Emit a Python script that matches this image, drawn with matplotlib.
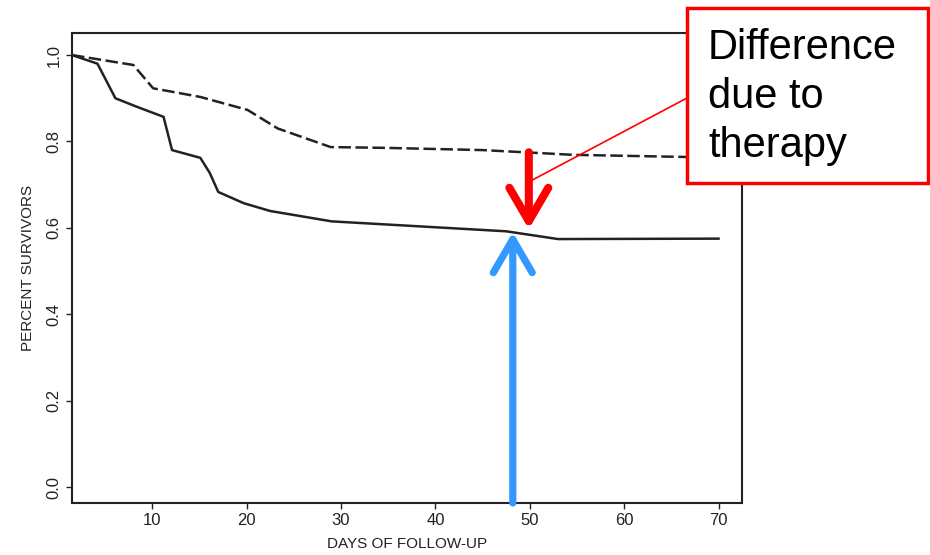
import matplotlib.pyplot as plt
from matplotlib.patches import Rectangle

plt.rcParams['font.family'] = ['Liberation Sans', 'DejaVu Sans']

# кривые выживаемости
days_control = [1.5, 4.2, 6.1, 8.4, 11.2, 12.1, 15.1, 16.1, 17.0, 19.7, 22.5, 29.0, 47.5, 53.0, 70.0]
surv_control = [1.0, 0.98, 0.90, 0.88, 0.857, 0.78, 0.762, 0.727, 0.683, 0.657, 0.639, 0.615, 0.592, 0.574, 0.575]

days_treated = [1.5, 8.0, 10.1, 15.1, 20.1, 23.3, 28.9, 35.0, 45.0, 54.6, 66.7, 72.0]
surv_treated = [1.0, 0.977, 0.923, 0.903, 0.873, 0.83, 0.787, 0.785, 0.78, 0.769, 0.764, 0.765]

x_ticks = [10, 20, 30, 40, 50, 60, 70]
y_ticks = [0.0, 0.2, 0.4, 0.6, 0.8, 1.0]

note_text = "Difference\ndue to\ntherapy"
blue_at = (48.2, 0.59)
red_from = (49.9, 0.775)
red_to = (49.9, 0.597)

fig = plt.figure(figsize=(9.3, 5.55), dpi=100)
ax = fig.add_axes([0.0774, 0.0937, 0.7206, 0.8468])

ink = '#222222'
ax.plot(days_control, surv_control, color=ink, lw=1.8)
ax.plot(days_treated, surv_treated, color=ink, lw=1.8, linestyle=(0, (5, 1.8)))

ax.set_xlim(1.5, 72.5)
ax.set_ylim(-0.037, 1.051)
ax.set_xticks(x_ticks)
ax.set_yticks(y_ticks)
ax.set_yticklabels([f"{v:.1f}" for v in y_ticks], rotation=90, va='center')
ax.tick_params(colors=ink, labelsize=12, length=4, width=1)
for s in ax.spines.values():
    s.set_color(ink)
    s.set_linewidth(1.5)

ax.set_xlabel("DAYS OF FOLLOW-UP", fontsize=11, color=ink, labelpad=6)
ax.set_ylabel("PERCENT SURVIVORS", fontsize=11, color=ink, labelpad=8)

# синяя стрелка снизу вверх
ax.annotate("", xy=blue_at, xytext=(blue_at[0], -0.037),
            arrowprops=dict(arrowstyle="->,head_length=1.2,head_width=0.7",
                            color='#3399FF', lw=5.2, mutation_scale=20,
                            shrinkA=0, shrinkB=0), annotation_clip=False)
# красная стрелка сверху вниз
ax.annotate("", xy=red_to, xytext=red_from,
            arrowprops=dict(arrowstyle="->,head_length=1.2,head_width=0.7",
                            color='#FF0000', lw=5.8, mutation_scale=20,
                            shrinkA=0, shrinkB=0))

# линия от рамки к стрелке
ax.annotate("", xy=(50.3, 0.711), xycoords='data',
            xytext=(687 / 930, 1 - 98 / 555), textcoords='figure fraction',
            arrowprops=dict(arrowstyle='-', color='#FF0000', lw=1.2,
                            shrinkA=0, shrinkB=0))

# рамка с подписью
fig.patches.append(Rectangle((687 / 930, 1 - 183 / 555), 241 / 930, 175 / 555,
                             transform=fig.transFigure, facecolor='white',
                             edgecolor='#FF0000', lw=2.5, zorder=5))
fig.text(708 / 930, 1 - 97 / 555, note_text, fontsize=30, color='black',
         va='center', ha='left', linespacing=1.28, zorder=6)

plt.savefig("out.png", dpi=100)
